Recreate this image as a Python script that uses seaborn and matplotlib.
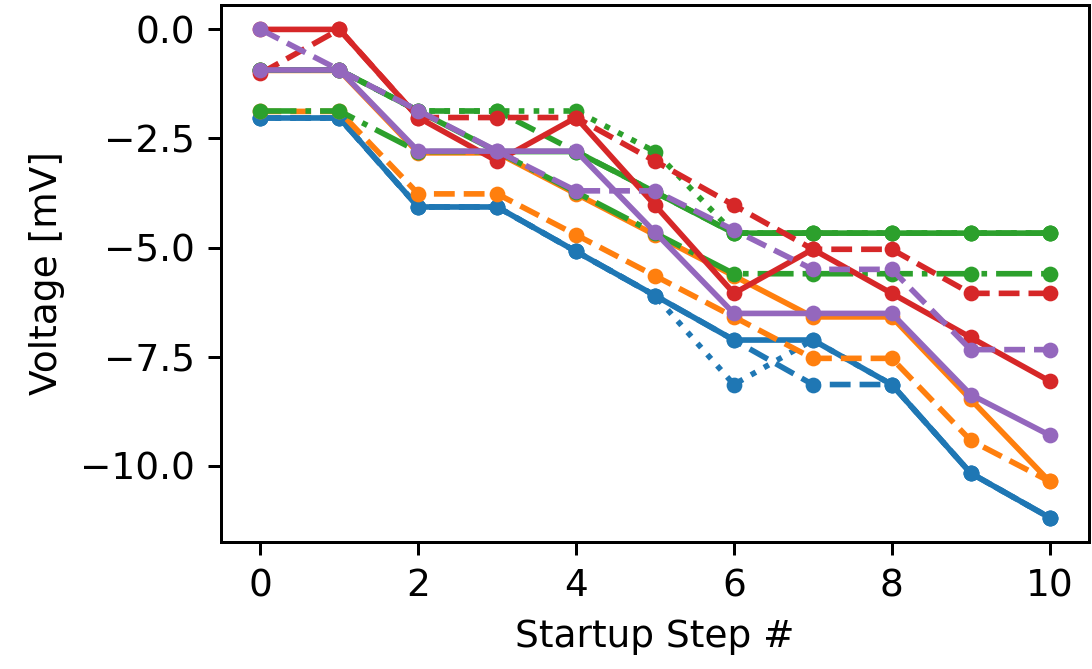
import matplotlib
matplotlib.use("Agg")
import matplotlib.pyplot as plt
import seaborn as sns

steps = [0, 1, 2, 3, 4, 5, 6, 7, 8, 9, 10]
x_ticks = [0, 2, 4, 6, 8, 10]
y_ticks = [-10.0, -7.5, -5.0, -2.5, 0.0]

blue_solid  = [-2.03, -2.03, -4.07, -4.07, -5.09, -6.10, -7.12, -7.12, -8.14, -10.17, -11.19]
blue_dashed = [-2.03, -2.03, -4.07, -4.07, -5.09, -6.10, -7.12, -8.14, -8.14, -10.17, -11.19]
blue_dotted = [-2.03, -2.03, -4.07, -4.07, -5.09, -6.10, -8.14, -7.12, -8.14, -10.17, -11.19]

orange_solid  = [-0.94, -0.94, -2.83, -2.83, -3.77, -4.71, -5.65, -6.59, -6.59, -8.48, -10.36]
orange_dashed = [-1.88, -1.88, -3.77, -3.77, -4.71, -5.65, -6.59, -7.54, -7.54, -9.42, -10.36]

green_solid   = [-0.93, -0.93, -1.87, -2.80, -2.80, -3.73, -4.67, -4.67, -4.67, -4.67, -4.67]
green_dashed  = [-0.93, -0.93, -1.87, -1.87, -2.80, -3.73, -4.67, -4.67, -4.67, -4.67, -4.67]
green_dashdot = [-1.87, -1.87, -2.80, -2.80, -3.73, -4.67, -5.60, -5.60, -5.60, -5.60, -5.60]
green_dotted  = [-0.93, -0.93, -1.87, -1.87, -1.87, -2.80, -4.67, -4.67, -4.67, -4.67, -4.67]

red_solid  = [0.0, 0.0, -2.02, -3.02, -2.02, -4.03, -6.05, -5.04, -6.05, -7.06, -8.06]
red_dashed = [-1.01, 0.0, -2.02, -2.02, -2.02, -3.02, -4.03, -5.04, -5.04, -6.05, -6.05]

purple_solid  = [-0.93, -0.93, -2.79, -2.79, -2.79, -4.65, -6.51, -6.51, -6.51, -8.37, -9.30]
purple_dashed = [0.0, -0.93, -1.86, -2.79, -3.70, -3.70, -4.60, -5.50, -5.50, -7.34, -7.34]

series = [
    (blue_solid, "#1f77b4", "-"),
    (blue_dashed, "#1f77b4", "--"),
    (blue_dotted, "#1f77b4", ":"),
    (orange_solid, "#ff7f0e", "-"),
    (orange_dashed, "#ff7f0e", "--"),
    (green_solid, "#2ca02c", "-"),
    (green_dashed, "#2ca02c", "--"),
    (green_dashdot, "#2ca02c", "-."),
    (green_dotted, "#2ca02c", ":"),
    (red_solid, "#d62728", "-"),
    (red_dashed, "#d62728", "--"),
    (purple_solid, "#9467bd", "-"),
    (purple_dashed, "#9467bd", "--"),
]

DPI = 270
fig = plt.figure(figsize=(1092 / DPI, 669 / DPI), dpi=DPI)
ax = fig.add_axes([221 / 1092, 1 - 542 / 669, (1089 - 221) / 1092, (542 - 5) / 669])

for vals, col, ls in series:
    sns.lineplot(x=steps, y=vals, ax=ax, color=col, linestyle=ls, marker="o",
                 markersize=4.2, markeredgewidth=0, linewidth=1.5,
                 errorbar=None, sort=False)

ax.set_xlabel("Startup Step #", fontsize=10)
ax.set_ylabel("Voltage [mV]", fontsize=10)
ax.set_xticks(x_ticks)
ax.set_yticks(y_ticks)

fig.savefig("out.png", dpi=DPI)
